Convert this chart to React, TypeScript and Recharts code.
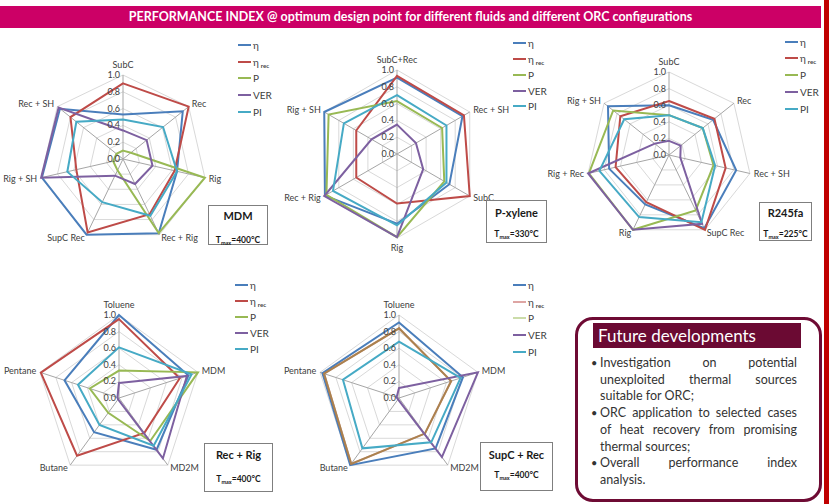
import React from 'react'
import { RadarChart, Radar, PolarGrid, PolarAngleAxis, PolarRadiusAxis, Legend } from 'recharts'

const FONT = 'Lato, "Open Sans", sans-serif'

// ── Data ─────────────────────────────────────────────
const AXES_MDM = ['SubC', 'Rec', 'Rig', 'Rec + Rig', 'SupC Rec', 'Rig + SH', 'Rec + SH']
const MDM_ETA = [0.53, 0.91, 0.66, 0.98, 1.0, 0.99, 0.96]
const MDM_ETA_REC = [0.9, 1.0, 0.63, 0.73, 0.97, 0.57, 0.8]
const MDM_P = [0.1, 0.12, 1.0, 0.98, 0.15, 0.12, 0.1]
const MDM_VER = [0.34, 0.36, 0.36, 0.33, 0.22, 1.0, 0.98]
const MDM_PI = [0.47, 0.61, 0.66, 0.75, 0.57, 0.68, 0.71]

const AXES_PX = ['SubC+Rec', 'Rec + SH', 'SubC', 'Rig', 'Rec + Rig', 'Rig + SH']
const PX_ETA = [0.91, 0.9, 0.72, 0.83, 0.99, 1.0]
const PX_ETA_REC = [0.93, 0.92, 1.0, 0.59, 0.56, 0.56]
const PX_P = [0.63, 0.62, 0.65, 0.99, 0.97, 0.94]
const PX_VER = [0.35, 0.26, 0.36, 0.99, 1.0, 0.35]
const PX_PI = [0.7, 0.68, 0.68, 0.85, 0.88, 0.73]

const AXES_R245 = ['SubC', 'Rec', 'Rec + SH', 'SupC Rec', 'Rig', 'Rig + Rec', 'Rig + SH']
const R245_ETA = [0.6, 0.68, 0.83, 0.98, 0.66, 0.74, 0.94]
const R245_ETA_REC = [0.65, 0.7, 0.7, 1.0, 0.63, 0.66, 0.75]
const R245_P = [0.48, 0.52, 0.55, 0.74, 1.0, 0.99, 0.86]
const R245_VER = [0.17, 0.18, 0.14, 0.92, 1.0, 1.0, 0.22]
const R245_PI = [0.48, 0.52, 0.57, 0.9, 0.83, 0.86, 0.69]

const FLUIDS = ['Toluene', 'MDM', 'MD2M', 'Butane', 'Pentane']
const RR_ETA = [1.0, 0.88, 0.77, 0.51, 0.69]
const RR_ETA_REC = [0.95, 0.77, 0.52, 0.86, 0.99]
const RR_P = [0.33, 1.0, 0.64, 0.22, 0.37]
const RR_VER = [0.18, 0.86, 0.9, 0.02, 0.02]
const RR_PI = [0.61, 0.92, 0.71, 0.4, 0.52]

const SR_ETA = [0.91, 0.81, 0.75, 1.0, 0.97]
const SR_ETA_REC = [0.84, 0.66, 0.53, 0.98, 0.95]
const SR_P = [0.84, 0.66, 0.53, 0.98, 0.95]
const SR_VER = [0.12, 1.0, 0.88, 0.02, 0.03]
const SR_PI = [0.68, 0.78, 0.66, 0.75, 0.71]

const RADIUS_TICKS = [0, 0.2, 0.4, 0.6, 0.8, 1.0]

const SERIES = [
  { key: 'eta', color: '#4A7EBB' },
  { key: 'etaRec', color: '#BE4B48' },
  { key: 'p', color: '#98B954' },
  { key: 'ver', color: '#7D60A0' },
  { key: 'pi', color: '#46AAC5' },
]

const rows = (axes: string[], eta: number[], etaRec: number[], p: number[], ver: number[], pi: number[]) =>
  axes.map((axis, i) => ({ axis, eta: eta[i], etaRec: etaRec[i], p: p[i], ver: ver[i], pi: pi[i] }))

// ── Ticks & legend ───────────────────────────────────
const angleTick = (cx: number, cy: number, r: number) => (props: any) => {
  const { x, y, payload } = props
  const dx = x - cx
  const dy = y - cy
  const len = Math.hypot(dx, dy) || 1
  const ux = dx / len
  const uy = dy / len
  const px = cx + ux * (r + 4)
  const py = cy + uy * (r + 4)
  let anchor = 'middle'
  let off = 3
  if (Math.abs(ux) < 0.2) off = uy < 0 ? -3 : 9
  else anchor = ux > 0 ? 'start' : 'end'
  return (
    <text x={px} y={py + off} textAnchor={anchor} fontSize={9} fill="#404040" fontFamily={FONT}>
      {payload.value}
    </text>
  )
}

const radiusTick = (props: any) => (
  <text x={props.x - 3} y={props.y + 3} textAnchor="end" fontSize={9} fill="#404040" fontFamily={FONT}>
    {Number(props.payload.value).toFixed(1)}
  </text>
)

const seriesLabel = (key: string) => {
  if (key === 'eta') return 'η'
  if (key === 'etaRec')
    return (
      <span>
        η<span style={{ fontSize: 6, fontWeight: 700, marginLeft: 2, position: 'relative', top: 2 }}>rec</span>
      </span>
    )
  if (key === 'p') return 'P'
  if (key === 'ver') return 'VER'
  return 'PI'
}

const legendContent = (gap: number, faded: string[]) => (props: any) => {
  const keys = (props.payload || []).map((e: any) => e.dataKey)
  const items = SERIES.filter(s => keys.includes(s.key))
  return (
    <div style={{ fontFamily: FONT, fontSize: 10, color: '#404040' }}>
      {items.map(s => (
        <div key={s.key} style={{ height: gap, display: 'flex', alignItems: 'center' }}>
          <svg width={13} height={4}>
            <line x1={0} y1={2} x2={13} y2={2} stroke={s.color} strokeWidth={2}
              strokeOpacity={faded.includes(s.key) ? 0.5 : 1} />
          </svg>
          <span style={{ marginLeft: 2 }}>{seriesLabel(s.key)}</span>
        </div>
      ))}
    </div>
  )
}

// ── Radar panel ──────────────────────────────────────
interface PanelProps {
  left: number; top: number; width: number; height: number
  cx: number; cy: number; r: number
  data: any[]
  legendX: number; legendY: number; gap: number
  faded?: string[]
}

function Panel({ left, top, width, height, cx, cy, r, data, legendX, legendY, gap, faded = [] }: PanelProps) {
  return (
    <div style={{ position: 'absolute', left, top }}>
      <RadarChart width={width} height={height} data={data} cx={cx} cy={cy} outerRadius={r}
        margin={{ top: 0, right: 0, bottom: 0, left: 0 }}>
        <PolarGrid gridType="polygon" radialLines={false} stroke="#D9D9D9" />
        <PolarGrid gridType="polygon" polarRadius={[]} stroke="#A6A6A6" />
        <PolarAngleAxis dataKey="axis" tick={angleTick(cx, cy, r)} tickLine={false} axisLine={false} />
        <PolarRadiusAxis angle={90} domain={[0, 1]} ticks={RADIUS_TICKS as any} tickCount={6}
          axisLine={false} tickLine={false} tick={radiusTick} />
        {SERIES.map(s => (
          <Radar key={s.key} name={s.key} dataKey={s.key} stroke={s.color} strokeWidth={2}
            strokeOpacity={s.key === 'p' && faded.includes('p') ? 0.5 : 1}
            fill="none" fillOpacity={0} dot={false} isAnimationActive={false} />
        ))}
        <Legend layout="vertical" align="right" verticalAlign="top" content={legendContent(gap, faded)}
          wrapperStyle={{ left: legendX, top: legendY - gap / 2, right: 'auto', width: 50 }} />
      </RadarChart>
    </div>
  )
}

function TagBox({ x, y, w, h, title, tmax, titleY, tY }: any) {
  return (
    <div style={{ position: 'absolute', left: x, top: y, width: w, height: h, border: '1px solid #7F7F7F',
      boxSizing: 'border-box', background: '#fff', fontFamily: FONT, color: '#1a1a1a', textAlign: 'center' }}>
      <div style={{ position: 'absolute', left: 0, right: 0, top: titleY - 7, lineHeight: '14px', fontSize: 11, fontWeight: 700 }}>
        {title}
      </div>
      <div style={{ position: 'absolute', left: 0, right: 0, top: tY - 6, lineHeight: '12px', fontSize: 8.5, fontWeight: 700 }}>
        T<span style={{ fontSize: 5.5, position: 'relative', top: 2 }}>max</span>={tmax}°C
      </div>
    </div>
  )
}

const BULLET_LINES = [
  { t: 'Investigation on potential', b: true, j: true },
  { t: 'unexploited thermal sources', b: false, j: true },
  { t: 'suitable for ORC;', b: false, j: false },
  { t: 'ORC application to selected cases', b: true, j: true },
  { t: 'of heat recovery from promising', b: false, j: true },
  { t: 'thermal sources;', b: false, j: false },
  { t: 'Overall performance index', b: true, j: true },
  { t: 'analysis.', b: false, j: false },
]

export default function App() {
  return (
    <div style={{ position: 'fixed', left: 0, top: 0, width: 830, height: 504, background: '#fff', overflow: 'hidden', fontFamily: FONT }}>
      <div style={{ position: 'absolute', left: 0, top: 6, width: 821, height: 22, background: '#CC0066', color: '#fff',
        fontWeight: 700, fontSize: 12.5, lineHeight: '22px', textAlign: 'center' }}>
        PERFORMANCE INDEX @ optimum design point for different fluids and different ORC configurations
      </div>

      <Panel left={0} top={30} width={280} height={225} cx={123} cy={129} r={84}
        data={rows(AXES_MDM, MDM_ETA, MDM_ETA_REC, MDM_P, MDM_VER, MDM_PI)} legendX={238} legendY={15} gap={16.7} />
      <Panel left={280} top={30} width={270} height={225} cx={117} cy={124} r={84}
        data={rows(AXES_PX, PX_ETA, PX_ETA_REC, PX_P, PX_VER, PX_PI)} legendX={233} legendY={13.3} gap={15.8} />
      <Panel left={530} top={30} width={300} height={225} cx={139} cy={125} r={83}
        data={rows(AXES_R245, R245_ETA, R245_ETA_REC, R245_P, R245_VER, R245_PI)} legendX={255} legendY={11.7} gap={16.8} />
      <Panel left={0} top={270} width={280} height={234} cx={119} cy={128} r={83}
        data={rows(FLUIDS, RR_ETA, RR_ETA_REC, RR_P, RR_VER, RR_PI)} legendX={235} legendY={15} gap={16.1} />
      <Panel left={280} top={270} width={280} height={234} cx={119} cy={128} r={83}
        data={rows(FLUIDS, SR_ETA, SR_ETA_REC, SR_P, SR_VER, SR_PI)} legendX={233} legendY={15} gap={16.7}
        faded={['etaRec', 'p']} />

      <TagBox x={208} y={205} w={60} h={40} title="MDM" tmax={400} titleY={10} tY={34} />
      <TagBox x={486} y={200} w={61} h={43} title="P-xylene" tmax={330} titleY={11.7} tY={33} />
      <TagBox x={759} y={202} w={53} h={39} title="R245fa" tmax={225} titleY={10} tY={30.5} />
      <TagBox x={204} y={443} w={69} h={49} title="Rec + Rig" tmax={400} titleY={11} tY={35} />
      <TagBox x={480} y={442} w={73} h={49} title="SupC + Rec" tmax={400} titleY={11.6} tY={32} />

      <div style={{ position: 'absolute', left: 575, top: 317, width: 247, height: 185, border: '3px solid #6E0B34',
        borderRadius: 18, boxSizing: 'border-box', background: '#fff' }} />
      <div style={{ position: 'absolute', left: 593, top: 323, width: 208, height: 25, background: '#6B0A33', color: '#fff',
        fontSize: 17, lineHeight: '25px', paddingLeft: 5, boxSizing: 'border-box' }}>
        Future developments
      </div>
      {BULLET_LINES.map((l, i) => (
        <div key={i} style={{ position: 'absolute', left: 590, top: 355 + i * 16.7, width: 208, height: 16.7,
          fontSize: 12.5, lineHeight: '16.7px', color: '#333' }}>
          {l.b && <span style={{ position: 'absolute', left: 1, top: 0, fontSize: 11 }}>•</span>}
          <div style={{ position: 'absolute', left: 10, width: 197, top: 0, textAlign: 'justify',
            textAlignLast: l.j ? 'justify' : 'left' }}>{l.t}</div>
        </div>
      ))}

      <div style={{ position: 'absolute', left: 824, top: 0, width: 5, height: 504, background: '#C00000' }} />
    </div>
  )
}
